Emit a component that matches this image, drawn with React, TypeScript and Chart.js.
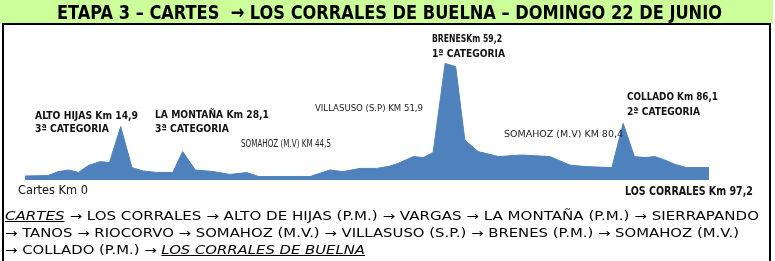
import React, { useEffect, useLayoutEffect, useRef, useState } from "react";
import { Chart, registerables } from "chart.js";

Chart.register(...registerables);

// Profile: distance (km) and relative altitude (m)
const distanceKm = [
  0, 3.3, 4.7, 6.2, 7.6, 9.0, 10.7, 12.0, 13.6, 15.2, 16.8, 18.7, 21.0, 22.4, 24.2,
  26.8, 29.1, 31.5, 33.2, 40.5, 43.3, 45.2, 47.6, 50.0, 51.9, 53.0, 55.2, 56.6, 58.0,
  59.7, 61.2, 62.5, 64.4, 67.3, 70.6, 74.6, 77.4, 79.6, 83.4, 85.0, 86.6, 88.1, 89.5,
  90.9, 92.4, 94.0, 97.2,
];
const altitudeM = [
  20, 22, 42, 50, 38, 72, 92, 87, 267, 62, 45, 38, 38, 142, 50,
  42, 28, 37, 17, 17, 50, 42, 58, 58, 70, 83, 117, 112, 138,
  583, 567, 200, 142, 117, 125, 117, 75, 67, 62, 283, 117, 112, 117,
  100, 78, 62, 62,
];
const distanceMaxKm = 97.2;
const altitudeMaxM = 750;

const titleText = "ETAPA 3 – CARTES  → LOS CORRALES DE BUELNA – DOMINGO 22 DE JUNIO";
const routeLine1Rest = " → LOS CORRALES → ALTO DE HIJAS (P.M.) → VARGAS → LA MONTAÑA (P.M.) → SIERRAPANDO";
const routeLine2 = "→ TANOS → RIOCORVO → SOMAHOZ (M.V.) → VILLASUSO (S.P.) → BRENES (P.M.) → SOMAHOZ (M.V.)";
const routeLine3Start = "→ COLLADO (P.M.) → ";
const routeStart = "CARTES";
const routeEnd = "LOS CORRALES DE BUELNA";

const COND = '"DejaVu Sans Condensed", "DejaVu Sans", sans-serif';
const SANS = '"DejaVu Sans", sans-serif';

type FitProps = {
  left: number;
  cy: number;
  width: number;
  size: number;
  lh?: number;
  bold?: boolean;
  family?: string;
  color?: string;
  children: React.ReactNode;
};

function FitText({ left, cy, width, size, lh, bold, family, color, children }: FitProps) {
  const ref = useRef<HTMLSpanElement>(null);
  const [sx, setSx] = useState(1);
  const lineH = lh ?? Math.round(size * 1.2);
  useLayoutEffect(() => {
    if (ref.current) {
      const w = ref.current.getBoundingClientRect().width / sx;
      if (w > 0) setSx(width / w);
    }
    // eslint-disable-next-line
  }, []);
  return (
    <div
      style={{
        position: "absolute",
        left,
        top: cy - lineH / 2,
        height: lineH,
        lineHeight: lineH + "px",
        whiteSpace: "pre",
        fontSize: size,
        fontWeight: bold ? "bold" : "normal",
        fontFamily: family ?? COND,
        color: color ?? "#111",
        transform: `scaleX(${sx})`,
        transformOrigin: "left center",
      }}
    >
      <span ref={ref}>{children}</span>
    </div>
  );
}

export default function App() {
  const canvasRef = useRef<HTMLCanvasElement>(null);

  useEffect(() => {
    if (!canvasRef.current) return;
    const points = distanceKm.map((x, i) => ({ x, y: altitudeM[i] }));
    const chart = new Chart(canvasRef.current, {
      type: "line",
      data: {
        datasets: [
          {
            data: points,
            fill: "origin",
            backgroundColor: "#4f81bd",
            borderColor: "#4f81bd",
            borderWidth: 1,
            pointRadius: 0,
            tension: 0,
          },
        ],
      },
      options: {
        responsive: false,
        animation: false,
        layout: { padding: { left: 25, right: 66, top: 30, bottom: 81 } },
        plugins: { legend: { display: false }, tooltip: { enabled: false }, title: { display: false } },
        scales: {
          x: { type: "linear", min: 0, max: distanceMaxKm, display: false },
          y: { min: 0, max: altitudeMaxM, display: false },
        },
      },
    });
    return () => chart.destroy();
  }, []);

  return (
    <div style={{ position: "absolute", left: 0, top: 0, width: 775, height: 261, overflow: "hidden", background: "#fff" }}>
      <div style={{ position: "absolute", left: 0, top: 0, width: 773, height: 24, background: "#ccff99" }} />
      <div
        style={{
          position: "absolute",
          left: 2,
          top: 23,
          width: 765,
          height: 250,
          border: "2px solid #000",
        }}
      />
      <canvas
        ref={canvasRef}
        width={775}
        height={261}
        style={{ position: "absolute", left: 0, top: 0, width: 775, height: 261 }}
      />
      <FitText left={57} cy={12} width={665} size={20} lh={24} bold color="#000">
        {titleText}
      </FitText>

      <FitText left={35} cy={115.5} width={103} size={10.5} bold>ALTO HIJAS Km 14,9</FitText>
      <FitText left={35} cy={128} width={74} size={10.5} bold>3ª CATEGORIA</FitText>
      <FitText left={155} cy={114.5} width={114} size={10.5} bold>LA MONTAÑA Km 28,1</FitText>
      <FitText left={155} cy={128} width={74} size={10.5} bold>3ª CATEGORIA</FitText>
      <FitText left={315} cy={107} width={108} size={9.5} color="#222">VILLASUSO (S.P) KM 51,9</FitText>
      <FitText left={241} cy={144} width={90} size={10} color="#222">SOMAHOZ (M.V) KM 44,5</FitText>
      <FitText left={432} cy={38.5} width={70} size={10.5} bold>BRENESKm 59,2</FitText>
      <FitText left={432} cy={53.5} width={73} size={10.5} bold>1ª CATEGORIA</FitText>
      <FitText left={504} cy={133} width={119} size={9.5} color="#222">SOMAHOZ (M.V) KM 80,4</FitText>
      <FitText left={627} cy={96.5} width={91} size={10.5} bold>COLLADO Km 86,1</FitText>
      <FitText left={627} cy={111} width={73} size={10.5} bold>2ª CATEGORIA</FitText>
      <FitText left={18} cy={190} width={70} size={12} color="#111">Cartes Km 0</FitText>
      <FitText left={625} cy={191} width={128} size={12} bold>LOS CORRALES Km 97,2</FitText>

      <FitText left={5} cy={216} width={754} size={12} lh={17} family={SANS} color="#000">
        <span style={{ fontStyle: "italic", textDecoration: "underline" }}>{routeStart}</span>
        {routeLine1Rest}
      </FitText>
      <FitText left={5} cy={233} width={734} size={12} lh={17} family={SANS} color="#000">
        {routeLine2}
      </FitText>
      <FitText left={5} cy={250} width={360} size={12} lh={17} family={SANS} color="#000">
        {routeLine3Start}
        <span style={{ fontStyle: "italic", textDecoration: "underline" }}>{routeEnd}</span>
      </FitText>
    </div>
  );
}
